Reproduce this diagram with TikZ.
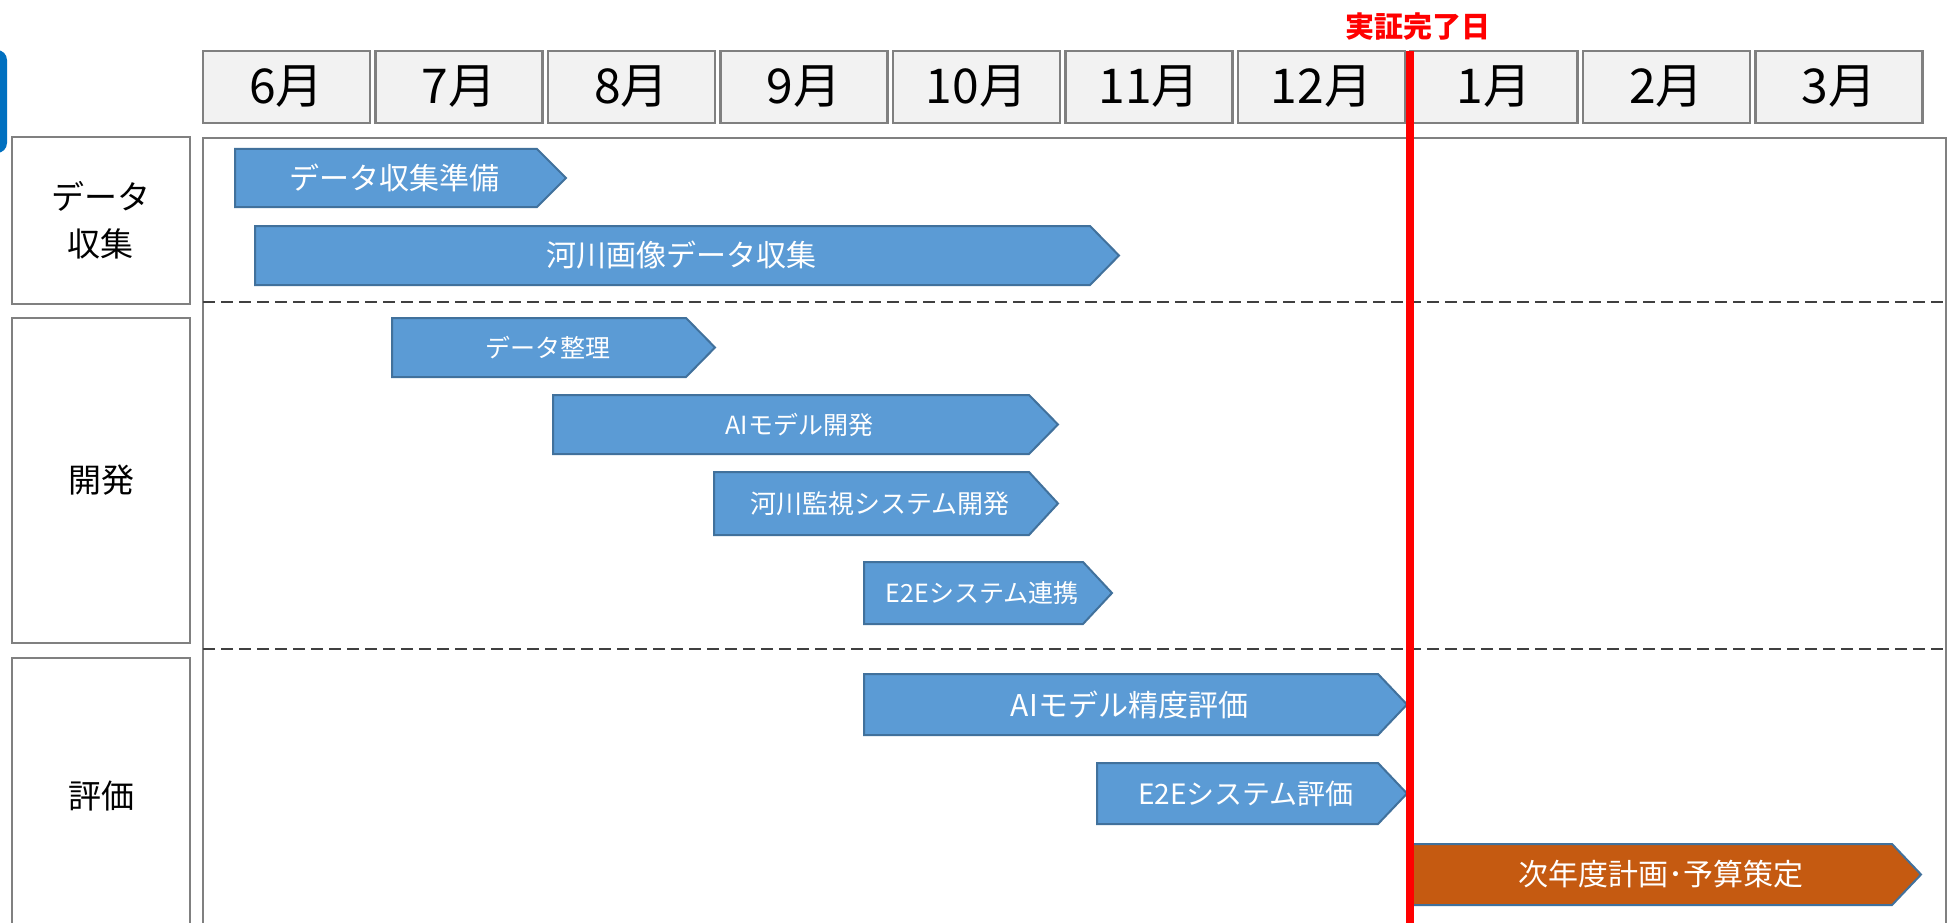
\documentclass[tikz,border=0pt]{standalone}
\usepackage{fontspec}
\setmainfont{Noto Sans CJK JP}
\definecolor{barblue}{HTML}{5B9BD5}
\definecolor{baredge}{HTML}{41719C}
\definecolor{barorange}{HTML}{C55A11}
\definecolor{boxgray}{HTML}{808080}
\definecolor{monthfill}{HTML}{F2F2F2}
\definecolor{tabblue}{HTML}{0070C0}
\definecolor{dashgray}{HTML}{404040}
\tikzset{
  monthbox/.style={draw=boxgray, line width=2.5pt, fill=monthfill, minimum width=167pt, minimum height=72pt, inner sep=0pt, outer sep=0pt, font=\fontsize{48}{48}\selectfont},
  catbox/.style={draw=boxgray, line width=2.5pt, fill=white, minimum width=178pt, inner sep=0pt, outer sep=0pt},
  cattext/.style={font=\fontsize{33}{47}\selectfont, align=center, inner sep=0pt},
  barline/.style={draw=baredge, line width=2pt, line join=miter},
  bartext/.style={text=white, inner sep=0pt},
  dashline/.style={draw=dashgray, line width=1.5pt, dash pattern=on 12pt off 6pt},
  redline/.style={draw=red, line width=8pt},
}
\newcommand{\gbar}[8]{%
  \draw[barline, fill=#6] (#2,#4) -- ({#3-29},#4) -- (#3,{(#4+#5)/2}) -- ({#3-29},#5) -- (#2,#5) -- cycle;
  \node[bartext, font=\fontsize{#7}{#7}\selectfont] (#1) at ({(#2+#3)/2-6},{(#4+#5)/2}) {#8};
}
\begin{document}
\begin{tikzpicture}[x=1pt,y=-1pt]
\clip (0,0) rectangle (1949,923);
\fill[white] (0,0) rectangle (1949,923);
% blue tab at left edge
\fill[tabblue, rounded corners=10pt] (-30,50) rectangle (7,153);
% month header
\foreach \m [count=\i from 0] in {6,7,8,9,10,11,12,1,2,3} {
  \node[monthbox] (m\i) at ({203+172.5*\i+83.5},87) {\m 月};
}
% main area
\draw[boxgray, line width=2.5pt] (203,960) -- (203,138) -- (1946,138) -- (1946,960);
\draw[dashline] (203,302) -- (1946,302);
\draw[dashline] (203,649) -- (1946,649);
% category boxes
\node[catbox, minimum height=167pt] (c1) at (101,220.5) {};
\node[cattext] (c1t) at (c1.center) {データ\\収集};
\node[catbox, minimum height=325pt] (c2) at (101,480.5) {};
\node[cattext] (c2t) at (c2.center) {開発};
\node[catbox, minimum height=276pt] (c3) at (101,796) {};
\node[cattext] (c3t) at (c3.center) {評価};
% bars
\gbar{b1}{235}{566}{149}{207}{barblue}{30}{データ収集準備}
\gbar{b2}{255}{1119}{226}{285}{barblue}{30}{河川画像データ収集}
\gbar{b3}{392}{715}{318}{377}{barblue}{25}{データ整理}
\gbar{b4}{553}{1058}{395}{454}{barblue}{25}{AIモデル開発}
\gbar{b5}{714}{1058}{472}{535}{barblue}{26}{河川監視システム開発}
\gbar{b6}{864}{1112}{562}{624}{barblue}{25}{E2Eシステム連携}
\gbar{b7}{864}{1407}{674}{735}{barblue}{30}{AIモデル精度評価}
\gbar{b8}{1097}{1407}{763}{824}{barblue}{28}{E2Eシステム評価}
\gbar{b9}{1412}{1921}{844}{905}{barorange}{30}{次年度計画･予算策定}
% completion line
\coordinate (redtop) at (1410,51);
\coordinate (redbot) at (1410,930);
\draw[redline] (redtop) -- (redbot);
\node[text=red, font=\fontsize{29}{29}\selectfont\bfseries, inner sep=0pt] (done) at (1418,27) {実証完了日};
\end{tikzpicture}
\end{document}
